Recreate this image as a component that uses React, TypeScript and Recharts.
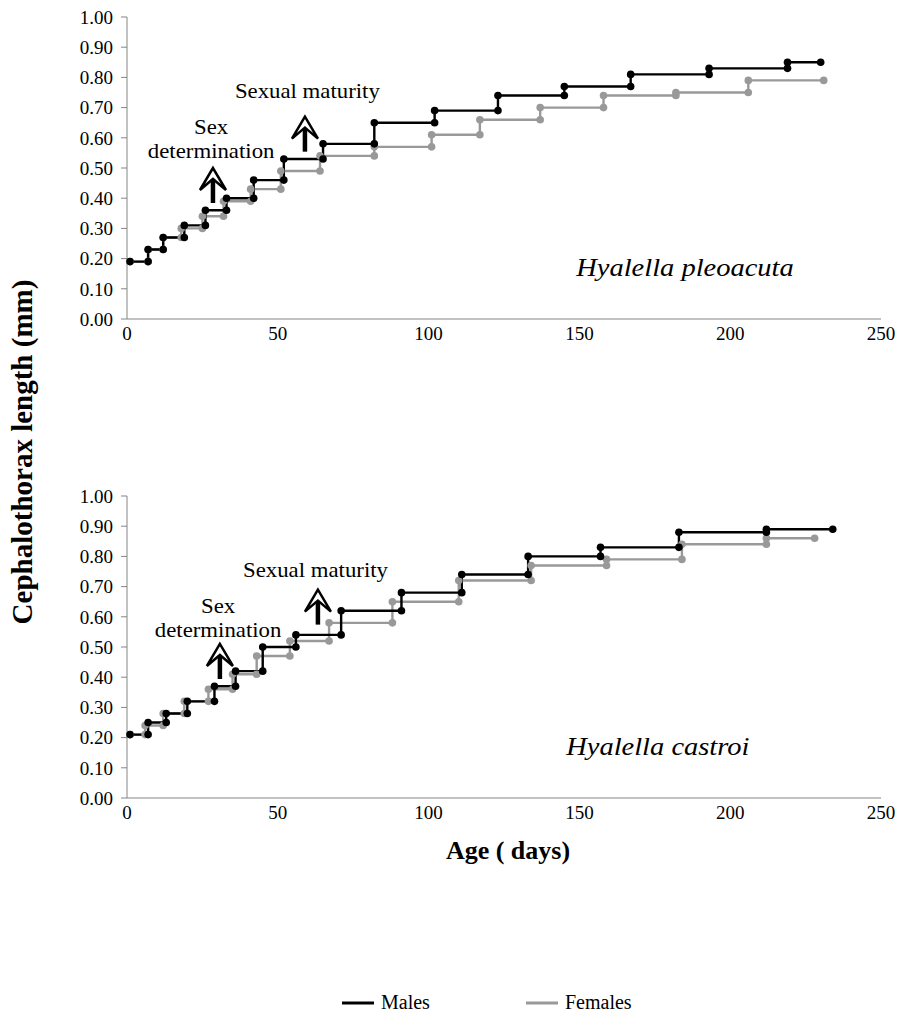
import React from "react";
import { LineChart, Line, XAxis, YAxis, ReferenceDot } from "recharts";

// molt days (x) and cephalothorax length held until next molt (y)
const DAY_TICKS = [0, 50, 100, 150, 200, 250];
const SIZE_TICKS = [0, 0.1, 0.2, 0.3, 0.4, 0.5, 0.6, 0.7, 0.8, 0.9, 1.0];
const SERIES_NAMES = ["Males", "Females"];

// Hyalella pleoacuta
const pleoMaleDays = [1, 7, 12, 19, 26, 33, 42, 52, 65, 82, 102, 123, 145, 167, 193, 219, 230];
const pleoMaleSize = [0.19, 0.23, 0.27, 0.31, 0.36, 0.4, 0.46, 0.53, 0.58, 0.65, 0.69, 0.74, 0.77, 0.81, 0.83, 0.85];
const pleoFemaleDays = [1, 7, 12, 18, 25, 32, 41, 51, 64, 82, 101, 117, 137, 158, 182, 206, 231];
const pleoFemaleSize = [0.19, 0.23, 0.27, 0.3, 0.34, 0.39, 0.43, 0.49, 0.54, 0.57, 0.61, 0.66, 0.7, 0.74, 0.75, 0.79];

// Hyalella castroi
const castMaleDays = [1, 7, 13, 20, 29, 36, 45, 56, 71, 91, 111, 133, 157, 183, 212, 234];
const castMaleSize = [0.21, 0.25, 0.28, 0.32, 0.37, 0.42, 0.5, 0.54, 0.62, 0.68, 0.74, 0.8, 0.83, 0.88, 0.89];
const castFemaleDays = [1, 6, 12, 19, 27, 35, 43, 54, 67, 88, 110, 134, 159, 184, 212, 228];
const castFemaleSize = [0.21, 0.24, 0.28, 0.32, 0.36, 0.41, 0.47, 0.52, 0.58, 0.65, 0.72, 0.77, 0.79, 0.84, 0.86];

const FONT = "Liberation Serif, Tinos, Times New Roman, Times, DejaVu Serif, serif";
const MALE_COLOR = "#000000";
const FEMALE_COLOR = "#999999";
const AXIS_COLOR = "#858585";

// each instar: a dot where it starts and a dot where it ends
function steps(days: number[], sizes: number[]) {
  const pts: { day: number; size: number }[] = [];
  sizes.forEach((s, i) => {
    pts.push({ day: days[i], size: s });
    pts.push({ day: days[i + 1], size: s });
  });
  return pts;
}

// tip of the arrow sits on (cx, cy)
const UpArrow = (props: any) => {
  const { cx, cy } = props;
  return (
    <g>
      <line x1={cx} y1={cy + 9} x2={cx} y2={cy + 35} stroke="#000" strokeWidth={4.5} />
      <path
        d={`M${cx},${cy} L${cx - 13},${cy + 22} L${cx},${cy + 11} L${cx + 13},${cy + 22} Z`}
        fill="#fff"
        stroke="#000"
        strokeWidth={2.5}
        strokeLinejoin="miter"
      />
    </g>
  );
};

// text is a little wider than plain Times in the original figure
const Note = (props: any) => {
  const { cx, cy, lines, italic } = props;
  const size = italic ? 25 : 20;
  return (
    <text
      transform={`translate(${cx},${cy}) scale(1.14,1)`}
      x={0}
      y={0}
      textAnchor="middle"
      fontFamily={FONT}
      fontSize={size}
      fontStyle={italic ? "italic" : "normal"}
      fill="#000"
    >
      {lines.map((l: string, i: number) => (
        <tspan key={i} x={0} dy={i === 0 ? "0.35em" : 24}>
          {l}
        </tspan>
      ))}
    </text>
  );
};

interface PanelProps {
  males: { day: number; size: number }[];
  females: { day: number; size: number }[];
  species: string;
  speciesAt: [number, number];
  maturity: [number, number];
  maturityText: [number, number];
  sexDet: [number, number];
  sexDetText: [number, number];
}

function Panel(p: PanelProps) {
  const tick = { fill: "#000", fontSize: 19, fontFamily: FONT };
  return (
    <LineChart width={904} height={350} margin={{ top: 17, right: 23, bottom: 6, left: 67 }}>
      <XAxis
        type="number"
        dataKey="day"
        domain={[0, 250]}
        ticks={DAY_TICKS}
        tick={tick}
        tickLine={false}
        axisLine={{ stroke: AXIS_COLOR }}
        height={25}
        allowDuplicatedCategory={false}
      />
      <YAxis
        type="number"
        dataKey="size"
        domain={[0, 1]}
        ticks={SIZE_TICKS}
        tickFormatter={(v: number) => v.toFixed(2)}
        tick={tick}
        tickLine={{ stroke: AXIS_COLOR }}
        tickSize={6}
        tickMargin={8}
        axisLine={{ stroke: AXIS_COLOR }}
        width={60}
      />
      <Line
        data={p.females}
        dataKey="size"
        name={SERIES_NAMES[1]}
        type="linear"
        stroke={FEMALE_COLOR}
        strokeWidth={2.4}
        dot={{ r: 3.8, fill: FEMALE_COLOR, stroke: "none" }}
        isAnimationActive={false}
      />
      <Line
        data={p.males}
        dataKey="size"
        name={SERIES_NAMES[0]}
        type="linear"
        stroke={MALE_COLOR}
        strokeWidth={2.4}
        dot={{ r: 3.8, fill: MALE_COLOR, stroke: "none" }}
        isAnimationActive={false}
      />
      <ReferenceDot x={p.maturity[0]} y={p.maturity[1]} shape={<UpArrow />} ifOverflow="visible" />
      <ReferenceDot x={p.sexDet[0]} y={p.sexDet[1]} shape={<UpArrow />} ifOverflow="visible" />
      <ReferenceDot
        x={p.maturityText[0]}
        y={p.maturityText[1]}
        shape={<Note lines={["Sexual maturity"]} />}
        ifOverflow="visible"
      />
      <ReferenceDot
        x={p.sexDetText[0]}
        y={p.sexDetText[1]}
        shape={<Note lines={["Sex", "determination"]} />}
        ifOverflow="visible"
      />
      <ReferenceDot
        x={p.speciesAt[0]}
        y={p.speciesAt[1]}
        shape={<Note lines={[p.species]} italic />}
        ifOverflow="visible"
      />
    </LineChart>
  );
}

export default function App() {
  return (
    <div style={{ position: "absolute", left: 0, top: 0, width: 904, height: 1021, background: "#fff", fontFamily: FONT }}>
      <div style={{ position: "absolute", left: 0, top: 0 }}>
        <Panel
          males={steps(pleoMaleDays, pleoMaleSize)}
          females={steps(pleoFemaleDays, pleoFemaleSize)}
          species="Hyalella pleoacuta"
          speciesAt={[185, 0.172]}
          maturity={[59, 0.67]}
          maturityText={[59.8, 0.755]}
          sexDet={[28.5, 0.5]}
          sexDetText={[27.9, 0.635]}
        />
      </div>
      <div style={{ position: "absolute", left: 0, top: 479 }}>
        <Panel
          males={steps(castMaleDays, castMaleSize)}
          females={steps(castFemaleDays, castFemaleSize)}
          species="Hyalella castroi"
          speciesAt={[176, 0.172]}
          maturity={[63.3, 0.69]}
          maturityText={[62.5, 0.755]}
          sexDet={[30.8, 0.51]}
          sexDetText={[30.2, 0.635]}
        />
      </div>
      <svg width={904} height={1021} style={{ position: "absolute", left: 0, top: 0, pointerEvents: "none" }}>
        <text
          transform="translate(22,452) rotate(-90)"
          textAnchor="middle"
          dominantBaseline="central"
          fontFamily={FONT}
          fontWeight="bold"
          fontSize={29}
        >
          Cephalothorax length (mm)
        </text>
        <text x={508} y={850} textAnchor="middle" dominantBaseline="central" fontFamily={FONT} fontWeight="bold" fontSize={26}>
          Age ( days)
        </text>
      </svg>
      {SERIES_NAMES.map((name, i) => (
        <div
          key={name}
          style={{
            position: "absolute",
            left: i === 0 ? 342 : 526,
            top: 991,
            display: "flex",
            alignItems: "center",
            fontSize: 20,
            fontFamily: FONT,
            whiteSpace: "nowrap",
          }}
        >
          <svg width={32} height={6} style={{ marginRight: 7 }}>
            <line x1={0} y1={3} x2={32} y2={3} stroke={i === 0 ? MALE_COLOR : FEMALE_COLOR} strokeWidth={3} />
          </svg>
          <span>{name}</span>
        </div>
      ))}
    </div>
  );
}
